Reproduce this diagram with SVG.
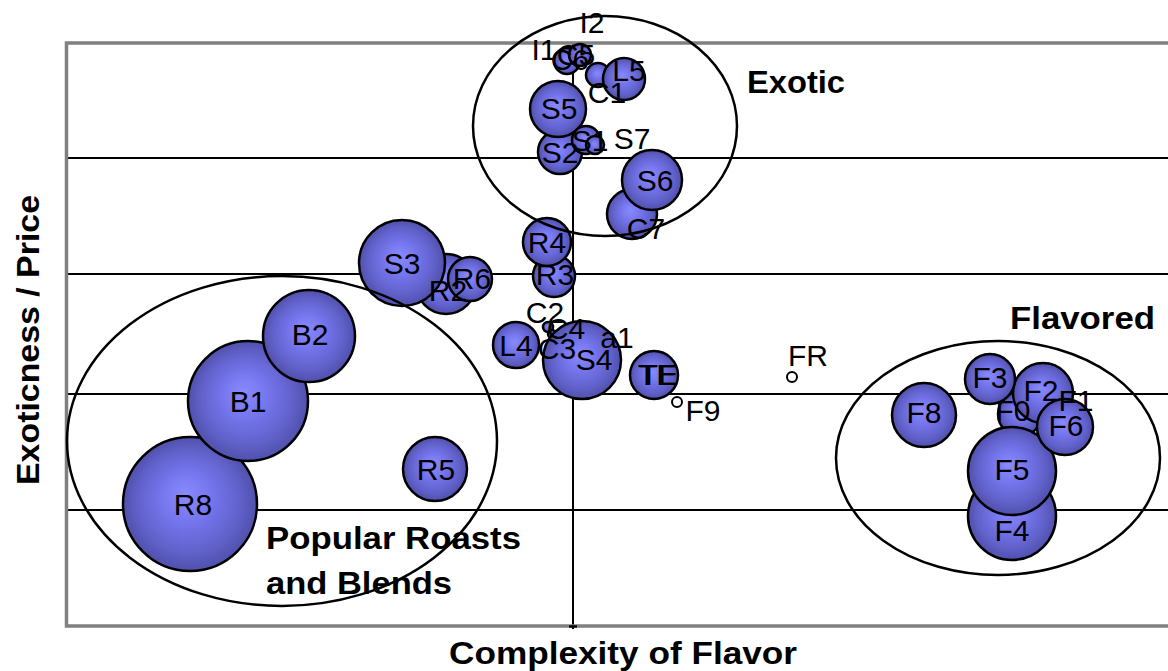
<svg xmlns="http://www.w3.org/2000/svg" width="1168" height="671" viewBox="0 0 1168 671">
<defs>
<radialGradient id="bg" cx="50%" cy="50%" r="50%" fx="46%" fy="42%">
<stop offset="0" stop-color="#8a8aff"/>
<stop offset="0.4" stop-color="#7474ec"/>
<stop offset="0.75" stop-color="#6262cc"/>
<stop offset="1" stop-color="#5050ac"/>
</radialGradient>
<style>
.b{fill:url(#bg);stroke:#000;stroke-width:2.5}
.pt{fill:#fff;stroke:#000;stroke-width:2}
.l{font-family:"Liberation Sans",Arial,sans-serif;font-size:30px;fill:#000;text-anchor:middle;dominant-baseline:central}
.t{font-family:"Liberation Sans",Arial,sans-serif;font-size:31px;font-weight:bold;fill:#000}
.g{stroke:#000;stroke-width:2;fill:none}
.e{fill:none;stroke:#000;stroke-width:2.5}
</style>
</defs>
<rect width="1168" height="671" fill="#fff"/>
<g id="frame">
<line class="g" x1="68" y1="158" x2="1168" y2="158"/>
<line class="g" x1="68" y1="274" x2="1168" y2="274"/>
<line class="g" x1="68" y1="394" x2="1168" y2="394"/>
<line class="g" x1="68" y1="510" x2="1168" y2="510"/>
<line class="g" x1="573" y1="42" x2="573" y2="629"/>
<polyline points="1168,43 66.5,43 66.5,626 1168,626" fill="none" stroke="#808080" stroke-width="3.5"/>
<line x1="569" y1="626.5" x2="577" y2="626.5" stroke="#000" stroke-width="2.5"/>
</g>
<g id="axis-titles">
<text class="t" x="623" y="664" text-anchor="middle" textLength="348" lengthAdjust="spacingAndGlyphs" font-size="29">Complexity of Flavor</text>
<text class="t" transform="translate(39,340) rotate(-90)" text-anchor="middle" textLength="290" lengthAdjust="spacingAndGlyphs" font-size="29">Exoticness / Price</text>
</g>
<g id="bubbles">
<g id="n-R8"><circle class="b" cx="190" cy="504" r="67"/></g>
<g id="n-B1"><circle class="b" cx="248" cy="401" r="60"/></g>
<g id="n-B2"><circle class="b" cx="309" cy="336" r="46"/></g>
<g id="n-R5"><circle class="b" cx="435" cy="469" r="32"/></g>
<g id="n-R2"><circle class="b" cx="446" cy="284" r="30"/></g>
<g id="n-S3"><circle class="b" cx="402" cy="263" r="43"/></g>
<g id="n-R6"><circle class="b" cx="470" cy="279" r="22"/></g>
<g id="n-R3"><circle class="b" cx="554" cy="276" r="21"/></g>
<g id="n-R4"><circle class="b" cx="547" cy="242" r="24"/></g>
<g id="n-L4"><circle class="b" cx="516" cy="345" r="23"/></g>
<g id="n-C2"><circle class="b" cx="548" cy="327" r="5"/></g>
<g id="n-C4"><circle class="b" cx="552" cy="334" r="4"/></g>
<g id="n-S4"><circle class="b" cx="582" cy="360" r="39"/></g>
<g id="n-TE"><circle class="b" cx="654" cy="375" r="24"/></g>
<g id="n-F9"><circle class="pt" cx="677" cy="402" r="5"/></g>
<g id="n-FR"><circle class="pt" cx="792" cy="377" r="5"/></g>
<g id="n-C6"><circle class="b" cx="567" cy="61" r="13"/></g>
<g id="n-C5"><circle class="b" cx="580" cy="55" r="11"/></g>
<g id="n-C1"><circle class="b" cx="598" cy="75" r="12"/></g>
<g id="n-L5"><circle class="b" cx="624" cy="79" r="21"/></g>
<g id="n-S2"><circle class="b" cx="560" cy="152" r="22"/></g>
<g id="n-S5"><circle class="b" cx="558" cy="109" r="28"/></g>
<g id="n-S1"><circle class="b" cx="586" cy="140" r="14"/><circle class="b" cx="595" cy="145" r="9"/></g>
<g id="n-C7"><circle class="b" cx="632" cy="214" r="25"/></g>
<g id="n-S6"><circle class="b" cx="652" cy="180" r="30"/></g>
<g id="n-F8"><circle class="b" cx="924" cy="415" r="32"/></g>
<g id="n-F4"><circle class="b" cx="1012" cy="516" r="44"/></g>
<g id="n-F0"><circle class="b" cx="1020" cy="414" r="22"/></g>
<g id="n-F2"><circle class="b" cx="1043" cy="393" r="30"/></g>
<g id="n-F3"><circle class="b" cx="990" cy="379" r="25"/></g>
<g id="n-F5"><circle class="b" cx="1012" cy="471" r="44"/></g>
<g id="n-F6"><circle class="b" cx="1065" cy="427" r="28"/></g>
</g>
<g id="groups">
<ellipse class="e" cx="605" cy="126" rx="132" ry="110"/>
<ellipse class="e" cx="282" cy="441" rx="215" ry="165"/>
<ellipse class="e" cx="998" cy="458" rx="162" ry="117"/>
</g>
<g id="labels">
<text class="l" x="193" y="504">R8</text>
<text class="l" x="248" y="401">B1</text>
<text class="l" x="310" y="334">B2</text>
<text class="l" x="436" y="469">R5</text>
<text class="l" x="402" y="263">S3</text>
<text class="l" x="448" y="290">R2</text>
<text class="l" x="472" y="278">R6</text>
<text class="l" x="547" y="242">R4</text>
<text class="l" x="555" y="274">R3</text>
<text class="l" x="545" y="312">C2</text>
<text class="l" x="566" y="328">C4</text>
<text class="l" x="516" y="345">L4</text>
<text class="l" x="557" y="348">C3</text>
<text class="l" x="617" y="337">a1</text>
<text class="l" x="594" y="359">S4</text>
<text class="l" x="657" y="374">TE</text>
<text class="l" x="659" y="374">TE</text>
<text class="l" x="703" y="410">F9</text>
<text class="l" x="808" y="355">FR</text>
<text class="l" x="592" y="22">I2</text>
<text class="l" x="544" y="49">I1</text>
<text class="l" x="576" y="54">C5</text>
<text class="l" x="570" y="59">C6</text>
<text class="l" x="607" y="92">C1</text>
<text class="l" x="629" y="70">L5</text>
<text class="l" x="559" y="108">S5</text>
<text class="l" x="590" y="140">S1</text>
<text class="l" x="560" y="152">S2</text>
<text class="l" x="632" y="138">S7</text>
<text class="l" x="655" y="180">S6</text>
<text class="l" x="646" y="228">C7</text>
<text class="l" x="924" y="412">F8</text>
<text class="l" x="990" y="377">F3</text>
<text class="l" x="1041" y="390">F2</text>
<text class="l" x="1013" y="410">F0</text>
<text class="l" x="1076" y="400">F1</text>
<text class="l" x="1066" y="425">F6</text>
<text class="l" x="1012" y="469">F5</text>
<text class="l" x="1012" y="530">F4</text>
</g>
<g id="group-labels">
<text class="t" x="747" y="93" textLength="98" lengthAdjust="spacingAndGlyphs">Exotic</text>
<text class="t" x="1010" y="329" textLength="145" lengthAdjust="spacingAndGlyphs">Flavored</text>
<text class="t" x="266" y="549" textLength="255" lengthAdjust="spacingAndGlyphs">Popular Roasts</text>
<text class="t" x="266" y="594" textLength="186" lengthAdjust="spacingAndGlyphs">and Blends</text>
</g>
</svg>
